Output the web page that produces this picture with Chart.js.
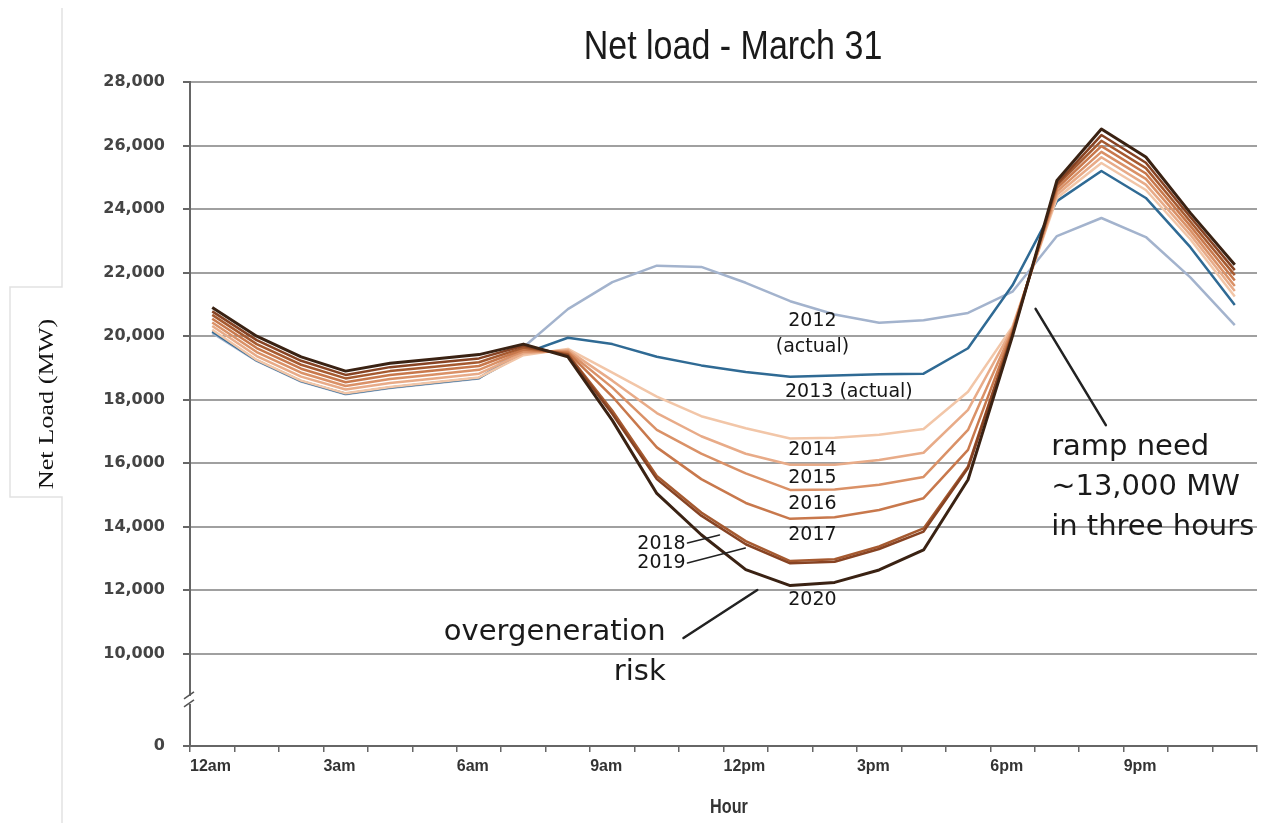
<!DOCTYPE html>
<html lang="en">
<head>
<meta charset="UTF-8">
<title>Net load - March 31</title>
<script src="https://cdn.jsdelivr.net/npm/chart.js"></script>
<style>
  html, body { margin: 0; padding: 0; background: #fff; }
</style>
</head>
<body>
<canvas id="netLoadChart" width="1262" height="823"></canvas>
<script>
// Net load (MW) for each hour of March 31, hour 0 = 12am-1am
const hourTickLabels = ['12am', '3am', '6am', '9am', '12pm', '3pm', '6pm', '9pm'];
const yTickValues = [10000, 12000, 14000, 16000, 18000, 20000, 22000, 24000, 26000, 28000];
const years = ['2012', '2013', '2014', '2015', '2016', '2017', '2018', '2019', '2020'];

const load2012 = [20100, 19220, 18570, 18170, 18370, 18520, 18670, 19650, 20850, 21700, 22220, 22180, 21680, 21100, 20680, 20420, 20500, 20730, 21400, 23150, 23720, 23120, 21850, 20350];
const load2013 = [20150, 19235, 18585, 18185, 18385, 18535, 18685, 19450, 19950, 19750, 19350, 19080, 18870, 18720, 18760, 18800, 18820, 19620, 21600, 24250, 25200, 24350, 22800, 20980];
const load2014 = [20200, 19250, 18600, 18200, 18400, 18550, 18700, 19400, 19600, 18850, 18100, 17480, 17100, 16780, 16800, 16900, 17080, 18250, 20300, 24350, 25450, 24600, 23050, 21250];
const load2015 = [20320, 19375, 18725, 18320, 18525, 18670, 18820, 19460, 19560, 18600, 17580, 16850, 16300, 15950, 15950, 16100, 16330, 17680, 20250, 24450, 25630, 24770, 23190, 21420];
const load2016 = [20430, 19500, 18850, 18430, 18650, 18790, 18940, 19520, 19520, 18380, 17050, 16300, 15680, 15160, 15170, 15320, 15570, 17050, 20200, 24550, 25800, 24950, 23330, 21580];
const load2017 = [20550, 19625, 18975, 18550, 18775, 18920, 19060, 19580, 19480, 18100, 16500, 15500, 14750, 14250, 14300, 14530, 14900, 16420, 20150, 24650, 25980, 25120, 23470, 21750];
const load2018 = [20670, 19750, 19100, 18670, 18900, 19040, 19180, 19640, 19430, 17650, 15600, 14450, 13550, 12920, 12980, 13380, 13950, 15900, 20100, 24750, 26150, 25290, 23610, 21920];
const load2019 = [20780, 19875, 19225, 18780, 19025, 19160, 19300, 19700, 19400, 17550, 15500, 14350, 13450, 12850, 12900, 13300, 13850, 15850, 20050, 24800, 26330, 25460, 23750, 22080];
const load2020 = [20900, 20000, 19350, 18900, 19150, 19280, 19420, 19750, 19350, 17350, 15050, 13750, 12650, 12150, 12250, 12640, 13270, 15480, 20000, 24900, 26520, 25640, 23880, 22250];

const seriesValues = [load2012, load2013, load2014, load2015, load2016, load2017, load2018, load2019, load2020];
const seriesColors = ['#a3b3cd', '#2f6a94', '#f2c6a8', '#e8ab88', '#da9167', '#c8784c', '#a65a30', '#874323', '#3a2213'];

// the y axis is broken below 10,000; this value sits where "0" is printed
const axisFloor = 7100;

const chartTitle = 'Net load - March 31';
const xTitle = 'Hour';
const yTitle = 'Net Load (MW)';

// annotation text, placed in (hour, MW) units
const yearNotes = [
  { text: '2012', h: 14.0, mw: 20480 },
  { text: '(actual)', h: 14.0, mw: 19660 },
  { text: '2013 (actual)', h: 14.82, mw: 18240 },
  { text: '2014', h: 14.0, mw: 16420 },
  { text: '2015', h: 14.0, mw: 15540 },
  { text: '2016', h: 14.0, mw: 14720 },
  { text: '2017', h: 14.0, mw: 13740 },
  { text: '2020', h: 14.0, mw: 11700 }
];
const leftNotes = [
  { text: '2018', h: 11.15, mw: 13460 },
  { text: '2019', h: 11.15, mw: 12860 }
];
const leaders = [
  { from: [11.19, 13490], to: [11.91, 13740], w: 1.5 },
  { from: [11.19, 12860], to: [12.49, 13330], w: 1.5 },
  { from: [11.10, 10500], to: [12.76, 12010], w: 2.5 },
  { from: [19.02, 20860], to: [20.60, 17200], w: 2.5 }
];
const bigNotes = [
  { lines: ['overgeneration', 'risk'], h: 10.70, mw: 10660, align: 'right' },
  { lines: ['ramp need', '~13,000 MW', 'in three hours'], h: 19.37, mw: 16510, align: 'left' }
];

const decorPlugin = {
  id: 'decor',
  beforeDraw(chart) {
    const ctx = chart.ctx;
    ctx.save();
    ctx.fillStyle = '#fff';
    ctx.fillRect(0, 0, chart.width, chart.height);
    // faint frame left over around the axis caption
    ctx.strokeStyle = '#e2e2e2';
    ctx.lineWidth = 1.5;
    ctx.beginPath();
    ctx.moveTo(62, 8); ctx.lineTo(62, 287); ctx.lineTo(10, 287);
    ctx.lineTo(10, 497); ctx.lineTo(62, 497); ctx.lineTo(62, 823);
    ctx.stroke();
    ctx.restore();
  },
  afterDraw(chart) {
    const { ctx, chartArea } = chart;
    const xs = chart.scales.x, ys = chart.scales.y;
    const px = h => xs.getPixelForValue(h);
    const py = v => ys.getPixelForValue(v);
    ctx.save();

    ctx.textAlign = 'center';
    ctx.textBaseline = 'middle';

    // title: narrow, tall lettering
    ctx.save();
    ctx.translate(733, 48);
    ctx.scale(1, 1.2);
    ctx.fillStyle = '#1a1a1a';
    ctx.font = '34px "Liberation Sans", sans-serif';
    ctx.fillText(chartTitle, 0, 0);
    ctx.restore();

    ctx.save();
    ctx.translate(729, 808);
    ctx.scale(0.9, 1.1);
    ctx.fillStyle = '#333';
    ctx.font = 'bold 18px "Liberation Sans", sans-serif';
    ctx.fillText(xTitle, 0, 0);
    ctx.restore();

    ctx.save();
    ctx.translate(47, 404);
    ctx.rotate(-Math.PI / 2);
    ctx.scale(1.25, 1);
    ctx.fillStyle = '#111';
    ctx.font = '21px "Liberation Serif", serif';
    ctx.fillText(yTitle, 0, 0);
    ctx.restore();

    // axis break marks
    const bx = chartArea.left, by = py((axisFloor + 10000) / 2);
    ctx.fillStyle = '#fff';
    ctx.fillRect(bx - 4, by - 4, 8, 8);
    ctx.strokeStyle = '#555';
    ctx.lineWidth = 1.5;
    ctx.beginPath();
    ctx.moveTo(bx - 6, by - 1); ctx.lineTo(bx + 4, by - 8);
    ctx.moveTo(bx - 6, by + 7); ctx.lineTo(bx + 4, by);
    ctx.stroke();

    // year labels
    ctx.fillStyle = '#161616';
    ctx.font = '19px "DejaVu Sans", sans-serif';
    yearNotes.forEach(n => ctx.fillText(n.text, px(n.h), py(n.mw)));
    ctx.textAlign = 'right';
    leftNotes.forEach(n => ctx.fillText(n.text, px(n.h), py(n.mw)));

    ctx.strokeStyle = '#222';
    ctx.lineCap = 'round';
    leaders.forEach(l => {
      ctx.lineWidth = l.w;
      ctx.beginPath();
      ctx.moveTo(px(l.from[0]), py(l.from[1]));
      ctx.lineTo(px(l.to[0]), py(l.to[1]));
      ctx.stroke();
    });

    ctx.fillStyle = '#1a1a1a';
    ctx.font = '29px "DejaVu Sans", sans-serif';
    bigNotes.forEach(n => {
      ctx.textAlign = n.align;
      n.lines.forEach((t, i) => ctx.fillText(t, px(n.h), py(n.mw) + i * 40));
    });

    ctx.restore();
  }
};

const datasets = years.map((yr, i) => ({
  label: yr,
  data: seriesValues[i].map((v, h) => ({ x: h + 0.5, y: v })),
  borderColor: seriesColors[i],
  backgroundColor: seriesColors[i],
  borderWidth: yr === '2020' ? 3 : 2.5,
  pointRadius: 0,
  tension: 0,
  borderJoinStyle: 'round',
  order: years.length - 1 - i
}));

new Chart(document.getElementById('netLoadChart').getContext('2d'), {
  type: 'line',
  data: { datasets },
  plugins: [decorPlugin],
  options: {
    responsive: false,
    animation: false,
    devicePixelRatio: 1,
    layout: { padding: { top: 82, right: 0, bottom: 0, left: 0 } },
    plugins: {
      legend: { display: false },
      tooltip: { enabled: false },
      title: { display: false }
    },
    scales: {
      x: {
        type: 'linear',
        min: 0,
        max: 24,
        afterFit: scale => { scale.height = 77; },
        border: { color: '#666', width: 2 },
        grid: { drawOnChartArea: false, drawTicks: true, tickLength: 6, color: '#666', lineWidth: 1.5 },
        ticks: {
          stepSize: 1,
          autoSkip: false,
          maxRotation: 0,
          align: 'start',
          padding: 5,
          color: '#333',
          font: { family: '"Liberation Sans", sans-serif', size: 16, weight: 'bold' },
          callback: v => (v % 3 === 0 && v < 24) ? hourTickLabels[v / 3] : ''
        }
      },
      y: {
        type: 'linear',
        min: axisFloor,
        max: 28000,
        afterFit: scale => { scale.width = 190; },
        afterBuildTicks: scale => {
          scale.ticks = [axisFloor, ...yTickValues].map(v => ({ value: v }));
        },
        border: { color: '#666', width: 2 },
        grid: {
          color: ctx => (ctx.tick && ctx.tick.value === axisFloor) ? '#777' : '#a0a0a0',
          lineWidth: 2,
          tickLength: 7,
          tickColor: '#666'
        },
        ticks: {
          padding: 18,
          color: '#444',
          font: { family: '"DejaVu Sans", sans-serif', size: 16, weight: 'bold' },
          callback: v => v < 10000 ? '0' : v.toLocaleString('en-US')
        }
      }
    }
  }
});
</script>
</body>
</html>
